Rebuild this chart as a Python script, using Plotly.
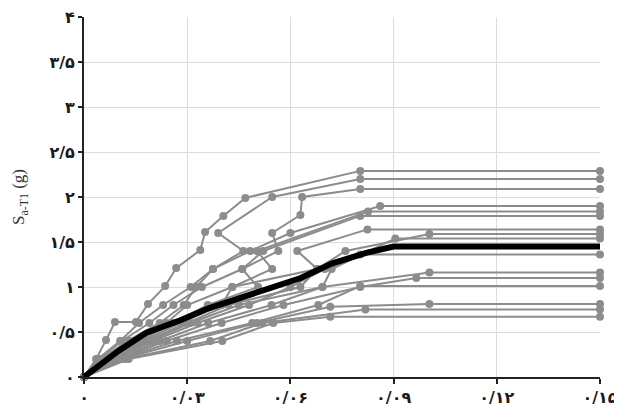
import plotly.graph_objects as go

# Gray IDA curves: (drift, Sa) points; each ends with a flat-line to drift 0.15
curve_drift = [
    [0, 0.0035, 0.0064, 0.0090, 0.0151, 0.0186, 0.0236, 0.0268, 0.0338, 0.0352, 0.0405, 0.0469, 0.0803],
    [0, 0.0040, 0.0105, 0.0160, 0.0230, 0.0310, 0.0375, 0.0463, 0.0390, 0.0547, 0.0803],
    [0, 0.0045, 0.0110, 0.0190, 0.0260, 0.0343, 0.0460, 0.0565, 0.0547, 0.0629, 0.0634, 0.0803],
    [0, 0.0050, 0.0125, 0.0220, 0.0290, 0.0326, 0.0375, 0.0483, 0.0600, 0.0861],
    [0, 0.0055, 0.0135, 0.0240, 0.0300, 0.0431, 0.0547, 0.0503, 0.0826],
    [0, 0.0065, 0.0160, 0.0260, 0.0360, 0.0506, 0.0460, 0.0521, 0.0803],
    [0, 0.0070, 0.0170, 0.0280, 0.0400, 0.0431, 0.0678, 0.0620, 0.0824],
    [0, 0.0075, 0.0180, 0.0300, 0.0420, 0.0629, 0.0678, 0.0760, 0.1004],
    [0, 0.0080, 0.0190, 0.0310, 0.0450, 0.0693, 0.0720, 0.0905],
    [0, 0.0085, 0.0200, 0.0330, 0.0480, 0.0600, 0.0700, 0.0803],
    [0, 0.0090, 0.0220, 0.0361, 0.0545, 0.0693, 0.1004],
    [0, 0.0095, 0.0240, 0.0400, 0.0580, 0.0803, 0.0966],
    [0, 0.0100, 0.0270, 0.0489, 0.0681, 0.0803],
    [0, 0.0110, 0.0300, 0.0503, 0.0716, 0.1004],
    [0, 0.0120, 0.0367, 0.0518, 0.0818],
    [0, 0.0130, 0.0402, 0.0550, 0.0716],
]
curve_sa = [
    [0, 0.20, 0.41, 0.61, 0.61, 0.81, 1.01, 1.21, 1.41, 1.61, 1.79, 1.99, 2.29],
    [0, 0.20, 0.40, 0.60, 0.80, 1.00, 1.20, 1.40, 1.60, 2.00, 2.20],
    [0, 0.20, 0.40, 0.60, 0.80, 1.00, 1.20, 1.40, 1.60, 1.80, 2.00, 2.09],
    [0, 0.20, 0.40, 0.60, 0.80, 1.00, 1.20, 1.40, 1.60, 1.90],
    [0, 0.20, 0.40, 0.60, 0.80, 1.00, 1.20, 1.40, 1.84],
    [0, 0.20, 0.40, 0.60, 0.80, 1.00, 1.20, 1.40, 1.79],
    [0, 0.20, 0.40, 0.60, 0.80, 1.00, 1.20, 1.40, 1.64],
    [0, 0.20, 0.40, 0.60, 0.80, 1.00, 1.20, 1.40, 1.59],
    [0, 0.20, 0.40, 0.60, 0.80, 1.00, 1.20, 1.54],
    [0, 0.20, 0.40, 0.60, 0.80, 1.00, 1.20, 1.36],
    [0, 0.20, 0.40, 0.60, 0.80, 1.00, 1.16],
    [0, 0.20, 0.40, 0.60, 0.80, 1.00, 1.10],
    [0, 0.20, 0.40, 0.60, 0.80, 1.01],
    [0, 0.20, 0.40, 0.60, 0.78, 0.81],
    [0, 0.20, 0.40, 0.60, 0.75],
    [0, 0.20, 0.40, 0.60, 0.67],
]
flat_drift = 0.15

# Median (black) curve
median_drift = [0, 0.005, 0.010, 0.018, 0.028, 0.036, 0.044, 0.053, 0.063, 0.072, 0.082, 0.090, 0.15]
median_sa = [0, 0.15, 0.29, 0.49, 0.63, 0.76, 0.86, 0.97, 1.10, 1.26, 1.38, 1.45, 1.45]

x_tickvals = [0, 0.03, 0.06, 0.09, 0.12, 0.15]
x_ticktext = ["۰", "۰/۰۳", "۰/۰۶", "۰/۰۹", "۰/۱۲", "۰/۱۵"]
y_tickvals = [0, 0.5, 1, 1.5, 2, 2.5, 3, 3.5, 4]
y_ticktext = ["۰", "۰/۵", "۱", "۱/۵", "۲", "۲/۵", "۳", "۳/۵", "۴"]

gray = "#8c8c8c"
fig = go.Figure()
for xs, ys in zip(curve_drift, curve_sa):
    xx = list(xs) + [flat_drift]
    yy = list(ys) + [ys[-1]]
    fig.add_trace(go.Scatter(
        x=xx, y=yy, mode="lines+markers",
        line=dict(color=gray, width=2),
        marker=dict(color=gray, size=8),
        cliponaxis=False, showlegend=False, hoverinfo="skip"))

fig.add_trace(go.Scatter(
    x=median_drift, y=median_sa, mode="lines",
    line=dict(color="black", width=6),
    showlegend=False, hoverinfo="skip"))

tick_font = dict(family="DejaVu Sans", size=16, color="#1a1a1a", weight="bold")
fig.update_layout(
    width=614, height=400,
    margin=dict(l=76, r=22, t=9, b=31),
    paper_bgcolor="white", plot_bgcolor="white",
    xaxis=dict(range=[0, 0.15], tickvals=x_tickvals, ticktext=x_ticktext,
               automargin=False, ticklabeloverflow="allow",
               showgrid=True, gridcolor="#dcdcdc", gridwidth=1,
               showline=True, linecolor="#222", linewidth=2,
               ticks="outside", ticklen=5, tickcolor="#222", tickwidth=2,
               tickfont=tick_font, zeroline=False),
    yaxis=dict(range=[0, 4], tickvals=y_tickvals, ticktext=y_ticktext,
               automargin=False, ticklabeloverflow="allow",
               showgrid=True, gridcolor="#dcdcdc", gridwidth=1,
               showline=True, linecolor="#222", linewidth=2,
               ticks="outside", ticklen=4, tickcolor="#222", tickwidth=2,
               tickfont=tick_font, zeroline=False,
               title=dict(text="S<sub>a-T1</sub> (g)",
                          font=dict(family="Liberation Serif", size=17, color="#333"),
                          standoff=20)),
)
fig.write_html("out.html")
